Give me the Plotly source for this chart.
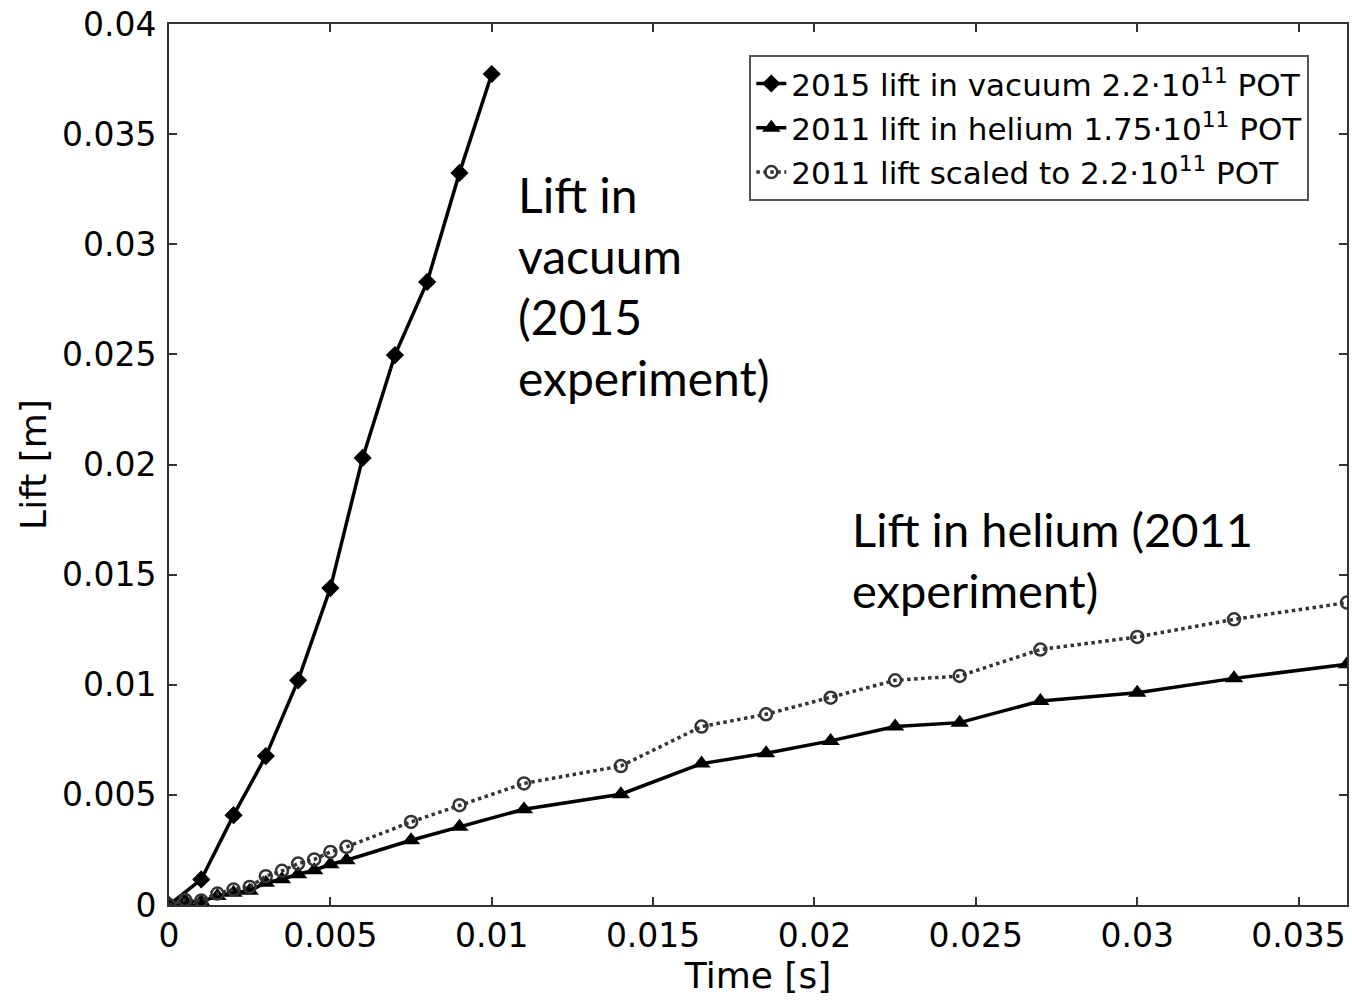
import plotly.graph_objects as go

# ---- data ----
vac_t = [0.0, 0.001, 0.002, 0.003, 0.004, 0.005, 0.006, 0.007, 0.008, 0.009, 0.010]
vac_lift = [0.0, 0.00116, 0.00408, 0.00676, 0.0102, 0.01439, 0.0203, 0.02497, 0.02829, 0.03324, 0.03773]

he_t = [0.0, 0.0005, 0.001, 0.0015, 0.002, 0.0025, 0.003, 0.0035, 0.004, 0.0045, 0.005, 0.0055,
        0.0075, 0.009, 0.011, 0.014, 0.0165, 0.0185, 0.0205, 0.0225, 0.0245, 0.027, 0.030, 0.033, 0.0365]
he_lift = [0.0, 0.00018, 0.00015, 0.00041, 0.00056, 0.00065, 0.00101, 0.00117, 0.0014, 0.00158, 0.00185, 0.00203,
           0.00294, 0.00355, 0.00435, 0.00503, 0.00642, 0.00689, 0.00745, 0.0081, 0.00828, 0.00926, 0.00964, 0.01029, 0.01093]

sc_t = he_t
sc_lift = [0.0, 0.00023, 0.0002, 0.00052, 0.0007, 0.00082, 0.00131, 0.00155, 0.00188, 0.00207, 0.00241, 0.00264,
           0.00377, 0.00453, 0.00552, 0.00631, 0.0081, 0.00866, 0.00941, 0.0102, 0.0104, 0.0116, 0.01217, 0.01297, 0.01373]

x_tickvals = [0, 0.005, 0.01, 0.015, 0.02, 0.025, 0.03, 0.035]
x_ticktext = ["0", "0.005", "0.01", "0.015", "0.02", "0.025", "0.03", "0.035"]
y_tickvals = [0, 0.005, 0.01, 0.015, 0.02, 0.025, 0.03, 0.035, 0.04]
y_ticktext = ["0", "0.005", "0.01", "0.015", "0.02", "0.025", "0.03", "0.035", "0.04"]

names = ["2015 lift in vacuum 2.2·10<sup>11</sup> POT",
         "2011 lift in helium 1.75·10<sup>11</sup> POT",
         "2011 lift scaled to 2.2·10<sup>11</sup> POT"]

fig = go.Figure()
fig.add_trace(go.Scatter(x=vac_t, y=vac_lift, mode="lines+markers", name=names[0], legendgroup="a",
                         line=dict(color="black", width=3.5),
                         marker=dict(symbol="diamond", size=14, color="black")))
fig.add_trace(go.Scatter(x=he_t, y=he_lift, mode="lines+markers", name=names[1], legendgroup="b",
                         line=dict(color="black", width=3.5),
                         marker=dict(symbol="triangle-up", size=16, color="black")))
fig.add_trace(go.Scatter(x=sc_t, y=sc_lift, mode="lines+markers", name=names[2], legendgroup="c",
                         line=dict(color="#333333", width=3.5, dash="dot"),
                         marker=dict(symbol="circle-open", size=12, color="#333333",
                                     line=dict(width=2.5))))

ann_font = dict(family="Lato", size=48, color="black")
vac_lines = ["Lift in", "vacuum", "(2015", "experiment)"]
vac_y = [0.03224, 0.02947, 0.02670, 0.02393]
for txt, yy in zip(vac_lines, vac_y):
    fig.add_annotation(x=0.01075, y=yy, xref="x", yref="y", text=txt, showarrow=False,
                       xanchor="left", yanchor="middle", font=ann_font)
he_lines = ["Lift in helium (2011", "experiment)"]
he_y = [0.01705, 0.01432]
for txt, yy in zip(he_lines, he_y):
    fig.add_annotation(x=0.0211, y=yy, xref="x", yref="y", text=txt, showarrow=False,
                       xanchor="left", yanchor="middle", font=dict(family="Lato", size=47, color="black"))

axis_common = dict(showgrid=False, zeroline=False, showline=True, linecolor="#333333", linewidth=2,
                   mirror="ticks", ticks="inside", ticklen=8, tickwidth=2, tickcolor="#333333",
                   tickfont=dict(family="DejaVu Sans", size=33, color="black"))

fig.update_xaxes(range=[0, 0.0365], tickvals=x_tickvals, ticktext=x_ticktext,
                 title=dict(text="Time [s]", font=dict(family="DejaVu Sans", size=36, color="black"), standoff=8),
                 **axis_common)
fig.update_yaxes(range=[0, 0.04], tickvals=y_tickvals, ticktext=y_ticktext,
                 title=dict(text="Lift [m]", font=dict(family="DejaVu Sans", size=36, color="black"), standoff=4),
                 ticklabelstandoff=4,
                 **axis_common)

fig.update_layout(
    width=1352, height=1000,
    margin=dict(l=169, r=3, t=24, b=95),
    paper_bgcolor="white", plot_bgcolor="white",
    showlegend=True,
    legend=dict(x=0.968, y=0.965, xanchor="right", yanchor="top",
                traceorder="grouped", tracegroupgap=1,
                bgcolor="white", bordercolor="#555555", borderwidth=2,
                font=dict(family="DejaVu Sans", size=31, color="black")),
)

fig.write_html("out.html")
